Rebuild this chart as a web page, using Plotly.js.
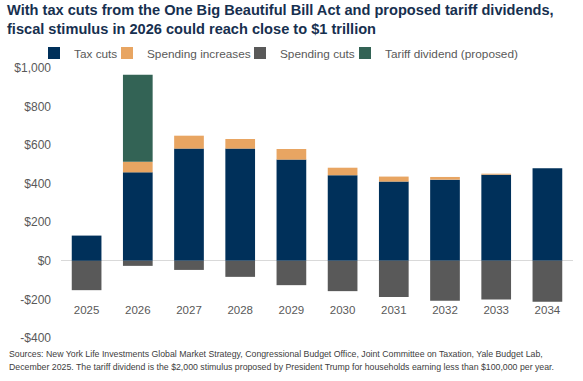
<!DOCTYPE html>
<html>
<head>
<meta charset="utf-8">
<script src="https://cdn.plot.ly/plotly-3.0.1.min.js"></script>
<style>html,body{margin:0;padding:0;background:#fff;}#chart{width:583px;height:381px;}</style>
</head>
<body>
<div id="chart"></div>
<script>
var years = ['2025','2026','2027','2028','2029','2030','2031','2032','2033','2034'];
var taxCuts = [131, 459, 582, 582, 525, 444, 411, 421, 447, 480];
var spendingIncreases = [0, 55, 67, 50, 55, 39, 26, 14, 5, 0];
var spendingCuts = [-152, -26, -47, -83, -126, -157, -187, -207, -200, -212];
var tariffDividend = [0, 451, 0, 0, 0, 0, 0, 0, 0, 0];
var seriesNames = ['Tax cuts', 'Spending increases', 'Spending cuts', 'Tariff dividend (proposed)'];
var yTickVals = [-400, -200, 0, 200, 400, 600, 800, 1000];
var yTickText = ['-$400', '-$200', '$0', '$200', '$400', '$600', '$800', '$1,000'];
var titleText = 'With tax cuts from the One Big Beautiful Bill Act and proposed tariff dividends,<br>fiscal stimulus in 2026 could reach close to $1 trillion';
var footnoteLines = [
  'Sources: New York Life Investments Global Market Strategy, Congressional Budget Office, Joint Committee on Taxation, Yale Budget Lab,',
  'December 2025. The tariff dividend is the $2,000 stimulus proposed by President Trump for households earning less than $100,000 per year.'
];

var fontFam = 'Liberation Sans, Arial, sans-serif';
var colors = ['#00305a', '#e8a562', '#595959', '#336355'];
var legendWidths = [28, 88, 60, 0];
var values = [taxCuts, spendingIncreases, spendingCuts, tariffDividend];

var traces = values.map(function(v, i){
  return {type:'bar', name:seriesNames[i], x:years, y:v, marker:{color:colors[i], line:{width:0}},
          hoverinfo:'none', legendwidth:legendWidths[i]};
});

// plot area geometry
var M = {l:61, r:10, t:68, b:42.5};
var plotW = 583 - M.l - M.r, plotH = 381 - M.t - M.b;

var layout = {
  width:583, height:381,
  margin:{l:M.l, r:M.r, t:M.t, b:M.b, pad:0},
  paper_bgcolor:'#ffffff', plot_bgcolor:'#ffffff',
  barmode:'relative', bargap:0.42,
  font:{family:fontFam, color:'#595959'},
  title:{
    text:titleText,
    font:{family:fontFam, size:14.6, color:'#17304f', weight:'bold'},
    xref:'container', yref:'container', x:7/583, xanchor:'left', y:1-15/381, yanchor:'top'
  },
  showlegend:true,
  legend:{
    orientation:'h', x:(34-M.l)/plotW, xanchor:'left', xref:'paper', y:1+15/plotH, yanchor:'middle',
    font:{size:11.8, color:'#595959'}, itemwidth:30, traceorder:'normal', bgcolor:'rgba(0,0,0,0)'
  },
  xaxis:{
    type:'category', anchor:'free', position:0.135,
    showline:false, showgrid:false, zeroline:false, ticks:'',
    tickfont:{size:11.5, color:'#595959'}, fixedrange:true
  },
  yaxis:{
    range:[-400, 1000], tickvals:yTickVals, ticktext:yTickText,
    showgrid:false, showline:false, zeroline:true, zerolinecolor:'#d9d9d9', zerolinewidth:1,
    ticks:'', ticklabelstandoff:9, tickfont:{size:12, color:'#595959'}, fixedrange:true
  },
  annotations:footnoteLines.map(function(t, i){
    return {
      xref:'paper', yref:'paper', x:(7-M.l)/plotW, y:-((355 + i*12.7) - (381-M.b))/plotH,
      xanchor:'left', yanchor:'middle', align:'left', showarrow:false,
      text:t, font:{family:fontFam, size:8.75, color:'#404040'}
    };
  })
};

Plotly.newPlot('chart', traces, layout, {displayModeBar:false, staticPlot:true});
</script>
</body>
</html>
